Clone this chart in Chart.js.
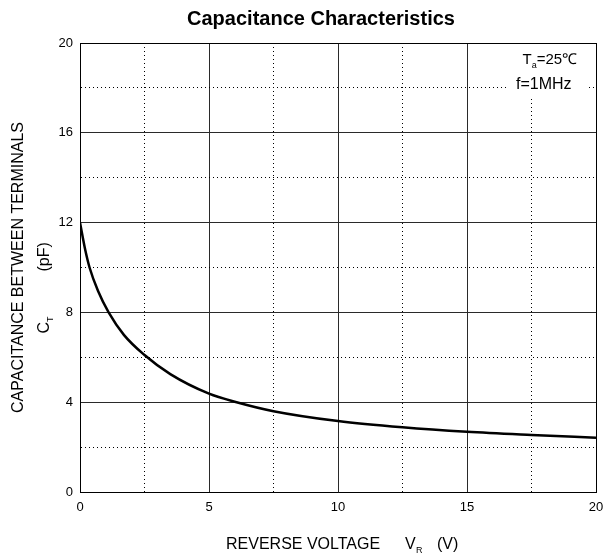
<!DOCTYPE html>
<html>
<head>
<meta charset="utf-8">
<script src="https://cdn.jsdelivr.net/npm/chart.js@4.4.1/dist/chart.umd.min.js"></script>
<style>
  html, body { margin: 0; padding: 0; background: #fff; }
  #wrap { width: 608px; height: 553px; }
</style>
</head>
<body>
<div id="wrap"><canvas id="cap-chart"></canvas></div>
<script>
// Reverse voltage (V) vs capacitance between terminals (pF)
const voltage = [0, 0.2, 0.37, 0.7, 1.11, 1.7, 2.5, 3.5, 5, 6.07, 7.5, 10, 12.5, 15, 17.5, 20];
const capacitance = [12, 10.8, 10, 8.95, 8, 7.0, 6.1, 5.25, 4.38, 4.0, 3.6, 3.16, 2.88, 2.68, 2.54, 2.42];

// axis ticks: labelled ones are solid grid lines, the in-between ones dotted
const xLabels = [0, 5, 10, 15, 20];
const yLabels = [0, 4, 8, 12, 16, 20];

const FONT = '"Liberation Sans", Arial, sans-serif';

function isMajor(v, list) {
  return list.some(t => Math.abs(t - v) < 1e-6);
}

function gridColor(list, ctx) {
  const v = ctx.tick ? ctx.tick.value : 0;
  const first = list[0], last = list[list.length - 1];
  if (v === first || v === last) return '#000';
  return isMajor(v, list) ? '#2a2a2a' : '#000';
}

function gridDash(list, ctx) {
  const v = ctx.tick ? ctx.tick.value : 0;
  return isMajor(v, list) ? [] : [1, 3];
}

// texts that Chart.js cannot lay out itself (subscripts, two-line rotated title)
const labelsPlugin = {
  id: 'labels',
  afterDatasetsDraw(chart) {
    const { ctx, scales: { x, y } } = chart;
    // white box behind the test conditions
    const bx = x.getPixelForValue(16.6), bx2 = x.getPixelForValue(19.65);
    const by = y.getPixelForValue(20) + 1, by2 = y.getPixelForValue(17.6);
    ctx.save();
    ctx.fillStyle = '#fff';
    ctx.fillRect(bx, by, bx2 - bx, by2 - by);
    ctx.restore();
  },
  afterDraw(chart) {
    const { ctx, scales: { x, y }, chartArea } = chart;
    ctx.save();
    ctx.fillStyle = '#000';
    ctx.textBaseline = 'alphabetic';

    // title
    ctx.font = 'bold 20px ' + FONT;
    ctx.textAlign = 'center';
    ctx.fillText('Capacitance Characteristics', 321, 25);

    // test conditions
    ctx.textAlign = 'left';
    let tx = x.getPixelForValue(17.15);
    const ty = y.getPixelForValue(19.05);
    ctx.font = '15px ' + FONT;
    ctx.fillText('T', tx, ty);
    tx += ctx.measureText('T').width;
    ctx.font = '9px ' + FONT;
    ctx.fillText('a', tx, ty + 4);
    tx += ctx.measureText('a').width;
    ctx.font = '15px ' + FONT;
    ctx.fillText('=25\u2103', tx, ty);
    ctx.font = '16px ' + FONT;
    ctx.fillText('f=1MHz', x.getPixelForValue(16.9), y.getPixelForValue(18) + 1);

    // x axis title
    ctx.font = '16px ' + FONT;
    const xb = 549;
    ctx.fillText('REVERSE VOLTAGE', 226, xb);
    ctx.fillText('V', 405, xb);
    ctx.font = '9px ' + FONT;
    ctx.fillText('R', 416, xb + 4);
    ctx.font = '16px ' + FONT;
    ctx.fillText('(V)', 437, xb);

    // y axis title, rotated
    const cy = (chartArea.top + chartArea.bottom) / 2;
    ctx.translate(0, cy);
    ctx.rotate(-Math.PI / 2);
    ctx.textAlign = 'center';
    ctx.font = '16px ' + FONT;
    ctx.fillText('CAPACITANCE BETWEEN TERMINALS', 0, 23);
    // second line: C_T   (pF)
    ctx.textAlign = 'left';
    ctx.font = '16px ' + FONT;
    const w1 = ctx.measureText('C').width;
    ctx.fillText('C', -66, 49);
    ctx.font = '9px ' + FONT;
    ctx.fillText('T', -66 + w1, 53);
    ctx.font = '16px ' + FONT;
    ctx.fillText('(pF)', -4, 49);
    ctx.restore();
  }
};

const ctx = document.getElementById('cap-chart').getContext('2d');

new Chart(ctx, {
  type: 'line',
  data: {
    datasets: [{
      data: voltage.map((v, i) => ({ x: v, y: capacitance[i] })),
      borderColor: '#000',
      borderWidth: 2.5,
      pointRadius: 0,
      fill: false,
      tension: 0.4,
      cubicInterpolationMode: 'monotone'
    }]
  },
  options: {
    responsive: true,
    maintainAspectRatio: false,
    animation: false,
    layout: { padding: { top: 43, right: 12, left: 0, bottom: 0 } },
    plugins: {
      legend: { display: false },
      title: { display: false },
      tooltip: { enabled: false }
    },
    scales: {
      x: {
        type: 'linear',
        min: 0,
        max: 20,
        afterFit: (s) => { s.height = 61; s.paddingLeft = 0; s.paddingRight = 0; },
        ticks: {
          stepSize: 2.5,
          autoSkip: false,
          maxRotation: 0,
          padding: 8,
          color: '#000',
          font: { family: FONT, size: 13 },
          callback: (v) => isMajor(v, xLabels) ? String(v) : ''
        },
        grid: {
          drawTicks: false,
          lineWidth: 1,
          color: (c) => gridColor(xLabels, c)
        },
        border: {
          color: '#000',
          width: 1,
          dash: (c) => gridDash(xLabels, c)
        }
      },
      y: {
        type: 'linear',
        min: 0,
        max: 20,
        afterFit: (s) => { s.width = 80; s.paddingTop = 0; s.paddingBottom = 0; },
        ticks: {
          stepSize: 2,
          autoSkip: false,
          padding: 7,
          color: '#000',
          font: { family: FONT, size: 13 },
          callback: (v) => isMajor(v, yLabels) ? String(v) : ''
        },
        grid: {
          drawTicks: false,
          lineWidth: 1,
          color: (c) => gridColor(yLabels, c)
        },
        border: {
          color: '#000',
          width: 1,
          dash: (c) => gridDash(yLabels, c)
        }
      }
    }
  },
  plugins: [labelsPlugin]
});
</script>
</body>
</html>
